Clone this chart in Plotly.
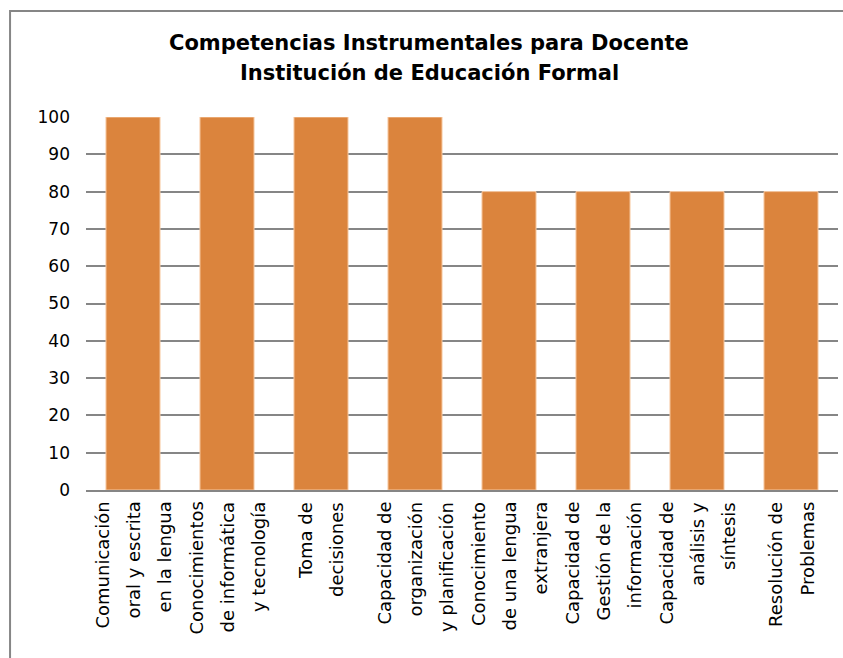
import plotly.graph_objects as go

categories = [
    "Comunicación oral y escrita en la lengua",
    "Conocimientos de informática y tecnología",
    "Toma de decisiones",
    "Capacidad de organización y planificación",
    "Conocimiento de una lengua extranjera",
    "Capacidad de Gestión de la información",
    "Capacidad de análisis y síntesis",
    "Resolución de Problemas",
]
label_lines = [
    ["Comunicación", "oral y escrita", "en la lengua"],
    ["Conocimientos", "de informática", "y tecnología"],
    ["Toma de", "decisiones"],
    ["Capacidad de", "organización", "y planificación"],
    ["Conocimiento", "de una lengua", "extranjera"],
    ["Capacidad de", "Gestión de la", "información"],
    ["Capacidad de", "análisis y", "síntesis"],
    ["Resolución de", "Problemas"],
]
values = [100, 100, 100, 100, 80, 80, 80, 80]
y_ticks = [0, 10, 20, 30, 40, 50, 60, 70, 80, 90, 100]
title_lines = ["Competencias Instrumentales para Docente", "Institución de Educación Formal"]

FONT = "DejaVu Sans"

fig = go.Figure()
fig.add_trace(go.Bar(
    x=categories, y=values,
    marker=dict(color="#DB843D", line=dict(color="#F7C9A3", width=1)),
    width=0.575,
))

annotations = []
for cat, lines in zip(categories, label_lines):
    n = len(lines)
    for i, ln in enumerate(lines):
        annotations.append(dict(
            x=cat, y=0, xref="x", yref="y",
            text=ln, showarrow=False, textangle=-90,
            xanchor="center", yanchor="top",
            xshift=(i - (n - 1) / 2) * 31, yshift=-10,
            font=dict(family=FONT, size=18, color="#000000"),
        ))

# title as two centered lines (30px line spacing as in the reference)
for j, tl in enumerate(title_lines):
    annotations.append(dict(
        x=(429 - 86) / 752, y=1, xref="paper", yref="paper",
        text="<b>" + tl + "</b>", showarrow=False,
        xanchor="center", yanchor="middle",
        yshift=117 - 43 - j * 30,
        font=dict(family=FONT, size=21, color="#000000"),
    ))

fig.update_layout(
    width=843, height=658,
    margin=dict(l=86, r=5, t=117, b=168),
    paper_bgcolor="white", plot_bgcolor="white",
    showlegend=False,
    annotations=annotations,
    shapes=[dict(
        type="rect", xref="paper", yref="paper",
        x0=-0.101, x1=1.05, y0=(490 - 11) / 373, y1=-0.6,
        line=dict(color="#868686", width=2), layer="above",
    )],
)
fig.update_xaxes(
    showticklabels=False, showgrid=False,
    showline=True, linecolor="#868686", linewidth=2,
    ticks="",
)
fig.update_yaxes(
    range=[0, 100], tickvals=y_ticks,
    showgrid=True, gridcolor="#868686", gridwidth=1.5,
    zeroline=False, showline=False, ticks="",
    tickfont=dict(family=FONT, size=17, color="#000000"),
    ticklabelstandoff=15,
)

fig.write_html("out.html", config={"displayModeBar": False},
               post_script="document.body.style.margin='0';")
